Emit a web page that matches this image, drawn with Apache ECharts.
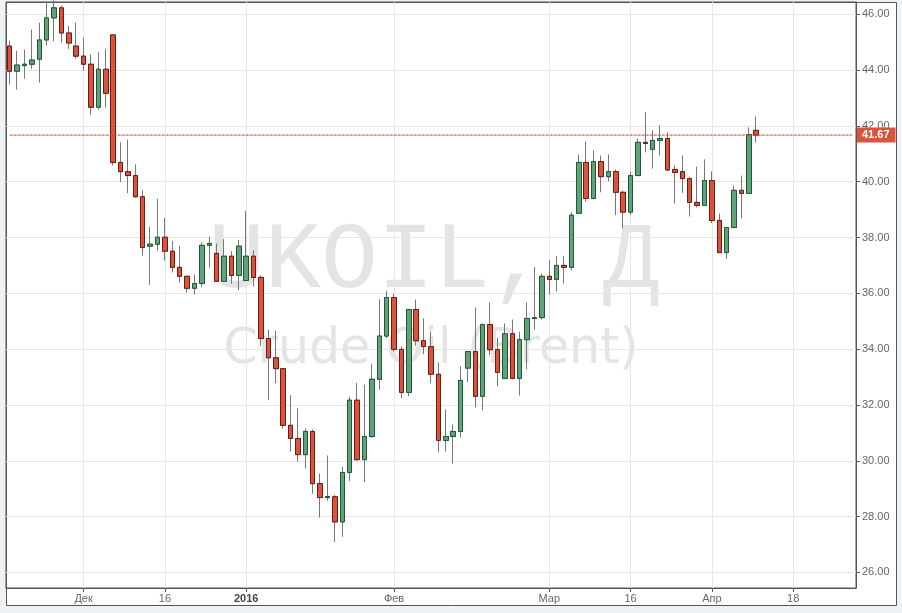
<!DOCTYPE html>
<html><head><meta charset="utf-8">
<script src="https://cdn.jsdelivr.net/npm/echarts@6/dist/echarts.min.js"></script>
<style>html,body{margin:0;padding:0;background:#eef2f6}#c{width:902px;height:613px}</style>
</head><body><div id="c"></div>
<script>
const dates = [
'2015-11-17','2015-11-18','2015-11-19','2015-11-20','2015-11-23','2015-11-24','2015-11-25','2015-11-26','2015-11-27','2015-11-30',
'2015-12-01','2015-12-02','2015-12-03','2015-12-04','2015-12-07','2015-12-08','2015-12-09','2015-12-10','2015-12-11','2015-12-14',
'2015-12-15','2015-12-16','2015-12-17','2015-12-18','2015-12-21','2015-12-22','2015-12-23','2015-12-24','2015-12-28','2015-12-29',
'2015-12-30','2015-12-31','2016-01-04','2016-01-05','2016-01-06','2016-01-07','2016-01-08','2016-01-11','2016-01-12','2016-01-13',
'2016-01-14','2016-01-15','2016-01-18','2016-01-19','2016-01-20','2016-01-21','2016-01-22','2016-01-25','2016-01-26','2016-01-27',
'2016-01-28','2016-01-29','2016-02-01','2016-02-02','2016-02-03','2016-02-04','2016-02-05','2016-02-08','2016-02-09','2016-02-10',
'2016-02-11','2016-02-12','2016-02-15','2016-02-16','2016-02-17','2016-02-18','2016-02-19','2016-02-22','2016-02-23','2016-02-24',
'2016-02-25','2016-02-26','2016-02-29','2016-03-01','2016-03-02','2016-03-03','2016-03-04','2016-03-07','2016-03-08','2016-03-09',
'2016-03-10','2016-03-11','2016-03-14','2016-03-15','2016-03-16','2016-03-17','2016-03-18','2016-03-21','2016-03-22','2016-03-23',
'2016-03-24','2016-03-28','2016-03-29','2016-03-30','2016-03-31','2016-04-01','2016-04-04','2016-04-05','2016-04-06','2016-04-07',
'2016-04-08','2016-04-11','2016-04-12','2016-04-13','2016-04-14','2016-04-15','2016-04-18','2016-04-19','2016-04-20','2016-04-21',
'2016-04-22','2016-04-25','2016-04-26','2016-04-27','2016-04-28'];

const opens = [44.86,43.96,44.16,44.21,44.39,45.08,45.87,46.23,45.33,44.86,
44.50,44.21,42.67,44.03,45.26,40.69,40.36,40.22,39.46,37.69,
37.76,38.01,37.51,36.93,36.61,36.18,36.35,37.72,37.43,36.43,
37.33,36.64,36.46,37.33,36.57,34.38,33.69,33.30,31.27,30.80,
30.22,31.05,29.18,28.68,28.71,27.81,29.58,32.17,30.04,30.87,
32.92,34.47,35.85,33.99,32.45,35.42,34.30,34.09,33.10,30.73,
30.87,31.05,33.32,33.91,32.31,34.88,33.98,32.95,34.55,32.95,
34.34,35.10,35.13,36.61,36.50,37.00,36.93,38.87,40.69,39.40,
40.72,40.18,40.36,39.62,38.91,40.22,41.41,41.16,41.48,41.55,
40.44,40.36,40.11,39.26,39.15,40.04,38.61,37.46,38.36,39.69,
39.58,41.84];

const closes = [43.96,44.18,44.21,44.36,45.08,45.87,46.23,45.33,44.97,44.50,
44.21,42.67,44.03,43.17,40.69,40.36,40.22,39.46,37.64,37.76,
38.01,37.51,36.93,36.61,36.18,36.35,37.72,37.79,36.43,37.33,
36.64,37.69,37.33,36.57,34.38,33.69,33.30,31.27,30.80,30.22,
31.05,29.18,28.68,28.72,27.81,29.58,32.17,30.04,30.87,32.92,
34.47,35.85,33.99,32.45,35.42,34.30,34.09,33.10,30.73,30.87,
31.05,32.88,33.91,32.31,34.88,33.98,33.17,34.55,32.95,34.34,
35.10,35.13,36.61,36.50,37.00,36.93,38.80,40.69,39.40,40.72,
40.18,40.36,39.62,38.91,40.22,41.41,41.37,41.48,41.55,40.42,
40.33,40.11,39.26,39.15,40.04,38.61,37.46,38.36,39.69,39.58,
41.69,41.67];

const lows = [43.48,43.30,43.69,44.05,43.55,44.88,45.03,44.99,44.76,44.41,
43.98,42.40,42.58,42.67,40.58,39.99,39.59,39.43,37.34,36.30,
37.53,37.17,36.75,36.39,36.02,35.96,36.23,36.93,36.43,36.43,
36.35,36.11,36.46,36.25,34.12,32.17,32.78,31.15,30.33,29.97,
29.72,28.82,27.96,28.57,27.09,27.27,29.27,29.99,29.24,30.82,
32.55,34.40,33.92,32.24,32.31,34.12,33.82,32.78,30.30,30.33,
29.90,30.83,32.81,31.91,31.81,33.79,32.67,32.95,32.92,32.34,
33.28,34.70,35.06,35.96,36.07,36.35,36.82,38.84,39.29,39.37,
39.62,40.01,38.80,38.33,38.80,40.22,41.05,40.47,40.94,40.39,
39.22,39.59,38.75,39.08,39.15,38.52,37.46,37.24,38.33,38.69,
39.58,41.40];

const highs = [45.05,44.69,44.73,45.45,45.70,46.45,46.50,46.31,45.59,45.70,
45.16,44.57,44.64,44.75,45.26,41.41,41.51,40.62,39.69,38.38,
39.39,38.70,37.88,37.70,36.64,36.68,37.83,38.03,37.79,37.94,
37.51,37.91,38.96,37.55,36.64,34.70,34.66,33.33,32.35,31.88,
31.16,31.12,29.54,30.19,28.78,29.79,32.30,32.79,32.72,33.47,
35.79,36.10,35.99,34.10,35.42,35.78,35.10,34.63,33.53,31.84,
31.30,33.39,33.94,35.49,34.92,35.67,34.41,34.92,35.06,34.63,
35.67,36.94,36.71,37.18,37.33,37.33,38.91,40.98,41.44,41.12,
40.94,40.98,40.44,39.69,40.36,41.55,42.49,41.84,42.02,41.77,
40.58,40.94,40.18,40.54,40.80,40.37,38.86,38.36,39.86,40.22,
41.95,42.34];

const yTicks = [26,28,30,32,34,36,38,40,42,44,46];
const tickDates = ['2015-12-01','2015-12-16','2016-01-04','2016-02-01','2016-03-01','2016-03-16','2016-04-01','2016-04-18'];
const tickTexts = ['Дек','16','2016','Фев','Мар','16','Апр','18'];
const boldTicks = ['2016'];
const lastPrice = 41.67;
const symbolText = 'UKOIL, Д';
const nameText = 'Crude Oil (Brent)';

const ohlc = opens.map((o, i) => [o, closes[i], lows[i], highs[i]]);
const bodies = opens.map((o, i) => [o, closes[i], Math.min(o, closes[i]), Math.max(o, closes[i])]);
const priceLine = [[dates[0], lastPrice], [dates[dates.length - 1], lastPrice]];
const isTick = (idx, val) => tickDates.indexOf(val) >= 0;

const chart = echarts.init(document.getElementById('c'), null, {renderer: 'canvas'});
const FONT = 'Liberation Sans, Arial, sans-serif';
const RED = '#e8392a';
chart.setOption({
  animation: false,
  backgroundColor: '#eef2f6',
  graphic: [
    {type: 'rect', z: -20, shape: {x: 6.5, y: 2.5, width: 890, height: 603}, style: {fill: '#fff', stroke: '#555', lineWidth: 1}},
    {type: 'text', z: -10, x: 434, y: 262, style: {text: symbolText, fill: '#e4e4e4', fontSize: 94, fontFamily: 'Liberation Mono, monospace', align: 'center', verticalAlign: 'middle'}},
    {type: 'text', z: -10, x: 431, y: 350, style: {text: nameText, fill: '#e4e4e4', fontSize: 49, fontFamily: 'DejaVu Sans, sans-serif', align: 'center', verticalAlign: 'middle'}}
  ],
  grid: {left: 6, right: 46, top: 2, bottom: 25, show: true, borderColor: '#555', borderWidth: 1, backgroundColor: 'transparent'},
  xAxis: {
    type: 'category', data: dates, boundaryGap: true,
    axisLine: {show: true, lineStyle: {color: '#555'}},
    axisTick: {show: true, alignWithLabel: true, interval: isTick, length: 4, lineStyle: {color: '#555'}},
    axisLabel: {
      interval: isTick, margin: 5, color: '#666', fontSize: 11, fontFamily: FONT,
      formatter: v => { const t = tickTexts[tickDates.indexOf(v)]; return boldTicks.indexOf(t) >= 0 ? '{b|' + t + '}' : t; },
      rich: {b: {fontWeight: 'bold', color: '#444', fontSize: 11, fontFamily: FONT}}
    },
    splitLine: {show: false}
  },
  yAxis: {
    type: 'value', position: 'right', min: 25.44, max: 46.44, scale: true,
    axisLine: {show: true, lineStyle: {color: '#555'}},
    axisTick: {show: true, length: 4, customValues: yTicks, lineStyle: {color: '#555'}},
    axisLabel: {customValues: yTicks, margin: 6, color: '#666', fontSize: 11, fontFamily: FONT, formatter: v => v.toFixed(2)},
    splitLine: {show: false}
  },
  series: [
    {
      type: 'candlestick', data: ohlc, barWidth: 5, z: 2,
      itemStyle: {color: '#777', color0: '#777', borderColor: '#777', borderColor0: '#777', borderWidth: 1},
      markLine: {
        silent: true, z: 1, symbol: ['none', 'none'], animation: false,
        label: {show: false},
        lineStyle: {color: '#e6e6e6', type: 'solid', width: 1},
        emphasis: {disabled: true},
        data: yTicks.map(v => ({yAxis: v})).concat(tickDates.map(d => ({xAxis: d})))
      }
    },
    {
      type: 'candlestick', data: bodies, barWidth: 5, z: 3,
      itemStyle: {color: '#62a27a', color0: '#d9533d', borderColor: '#1e5a33', borderColor0: '#6b1c12', borderWidth: 1}
    },
    {
      type: 'line', data: priceLine, z: 6, silent: true, symbol: 'none', clip: false,
      itemStyle: {color: RED},
      lineStyle: {color: RED, type: [3, 1], width: 1, opacity: 1},
      markLine: {
        silent: true, z: 7, symbol: ['none', 'none'], animation: false,
        lineStyle: {color: 'rgba(255,255,255,0)', width: 1, type: 'solid'},
        label: {show: true, position: 'end', distance: 1, formatter: () => lastPrice.toFixed(2), backgroundColor: '#d9533d', color: '#fff', fontWeight: 'bold', fontSize: 11, fontFamily: FONT, padding: [2, 6, 2, 5], lineHeight: 11},
        emphasis: {disabled: true},
        data: [{yAxis: lastPrice}]
      }
    }
  ]
});
</script></body></html>
